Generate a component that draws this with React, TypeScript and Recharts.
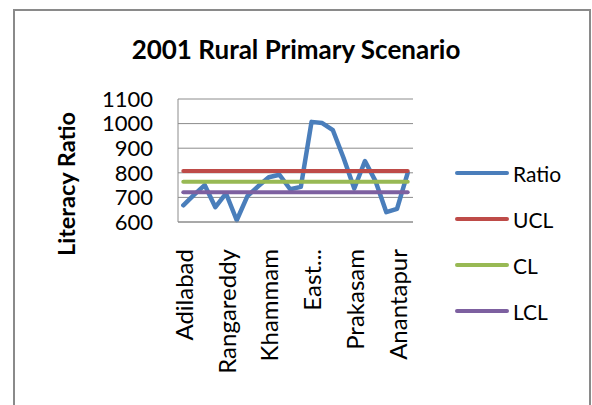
import React from 'react';
import { LineChart, Line, XAxis, YAxis, CartesianGrid } from 'recharts';

const districts = [
  'Adilabad', 'Nizamabad', 'Karimnagar', 'Medak', 'Rangareddy', 'Mahbubnagar',
  'Nalgonda', 'Warangal', 'Khammam', 'Srikakulam', 'Vizianagaram', 'Visakhapatnam',
  'East...', 'West Godavari', 'Krishna', 'Guntur', 'Prakasam', 'Nellore',
  'Cuddapah', 'Kurnool', 'Anantapur', 'Chittoor',
];
const ratio = [668, 710, 750, 660, 716, 607, 705, 745, 782, 792, 733, 743, 1007, 1002, 973, 860, 736, 848, 765, 640, 653, 800];
const ucl = [807, 807, 807, 807, 807, 807, 807, 807, 807, 807, 807, 807, 807, 807, 807, 807, 807, 807, 807, 807, 807, 807];
const cl = [764, 764, 764, 764, 764, 764, 764, 764, 764, 764, 764, 764, 764, 764, 764, 764, 764, 764, 764, 764, 764, 764];
const lcl = [721, 721, 721, 721, 721, 721, 721, 721, 721, 721, 721, 721, 721, 721, 721, 721, 721, 721, 721, 721, 721, 721];
const yTicks = [600, 700, 800, 900, 1000, 1100];

const series = [
  { key: 'Ratio', color: '#4a7ebb', width: 4.5 },
  { key: 'UCL', color: '#be4b48', width: 4 },
  { key: 'CL', color: '#98b954', width: 4 },
  { key: 'LCL', color: '#7d60a0', width: 4 },
];

const data = districts.map((name, i) => ({
  name,
  Ratio: ratio[i],
  UCL: ucl[i],
  CL: cl[i],
  LCL: lcl[i],
}));

const FONT = 'Lato, "Liberation Sans", sans-serif';

const XTick = (props: any) => {
  const { x, y, payload } = props;
  return (
    <text
      x={x}
      y={y}
      transform={`rotate(-90, ${x}, ${y})`}
      textAnchor="end"
      dy="0.4em"
      fontSize={24}
      fontFamily={FONT}
      fill="#000"
    >
      {payload.value}
    </text>
  );
};

export default function App() {
  return (
    <div style={{ position: 'absolute', left: 0, top: 0, width: 592, height: 405, overflow: 'hidden', background: '#fff' }}>
      <div
        style={{
          position: 'absolute',
          left: 13,
          top: 9,
          width: 574,
          height: 420,
          border: '2px solid #8a8a8a',
        }}
      />
      <div style={{ position: 'absolute', left: 0, top: 0 }}>
        <LineChart
          width={592}
          height={405}
          data={data}
          margin={{ top: 99, right: 179, left: 0, bottom: 0 }}
        >
          <CartesianGrid horizontal vertical={false} stroke="#8c8c8c" strokeWidth={1} />
          <XAxis
            dataKey="name"
            scale="point"
            padding={{ left: 5.3, right: 5.3 }}
            interval={3}
            height={183}
            tickLine={false}
            tickMargin={21}
            axisLine={{ stroke: '#8c8c8c' }}
            tick={<XTick />}
          />
          <YAxis
            domain={[600, 1100]}
            ticks={yTicks}
            width={178}
            tickLine={false}
            tickMargin={19}
            axisLine={{ stroke: '#8c8c8c' }}
            tick={{ fontSize: 22, fontFamily: FONT, fill: '#000' }}
            interval={0}
          />
          {series.map((s) => (
            <Line
              key={s.key}
              dataKey={s.key}
              stroke={s.color}
              strokeWidth={s.width}
              dot={false}
              activeDot={false}
              strokeLinecap="round"
              strokeLinejoin="round"
              isAnimationActive={false}
            />
          ))}
        </LineChart>
      </div>
      <svg width={592} height={405} style={{ position: 'absolute', left: 0, top: 0, pointerEvents: 'none' }}>
        <text x={296} y={59} textAnchor="middle" fontSize={26} fontWeight="bold" fontFamily={FONT} fill="#000">
          2001 Rural Primary Scenario
        </text>
        <text
          transform="rotate(-90)"
          x={-184}
          y={75}
          textAnchor="middle"
          fontSize={23.5}
          fontWeight="bold"
          fontFamily={FONT}
          fill="#000"
        >
          Literacy Ratio
        </text>
      </svg>
      <div style={{ position: 'absolute', left: 455, top: 150, fontFamily: FONT }}>
        {series.map((s) => (
          <div key={s.key} style={{ height: 46, display: 'flex', alignItems: 'center' }}>
            <div style={{ width: 54, height: 4, borderRadius: 2, background: s.color }} />
            <span style={{ marginLeft: 4, fontSize: 21, color: '#000' }}>{s.key}</span>
          </div>
        ))}
      </div>
    </div>
  );
}
